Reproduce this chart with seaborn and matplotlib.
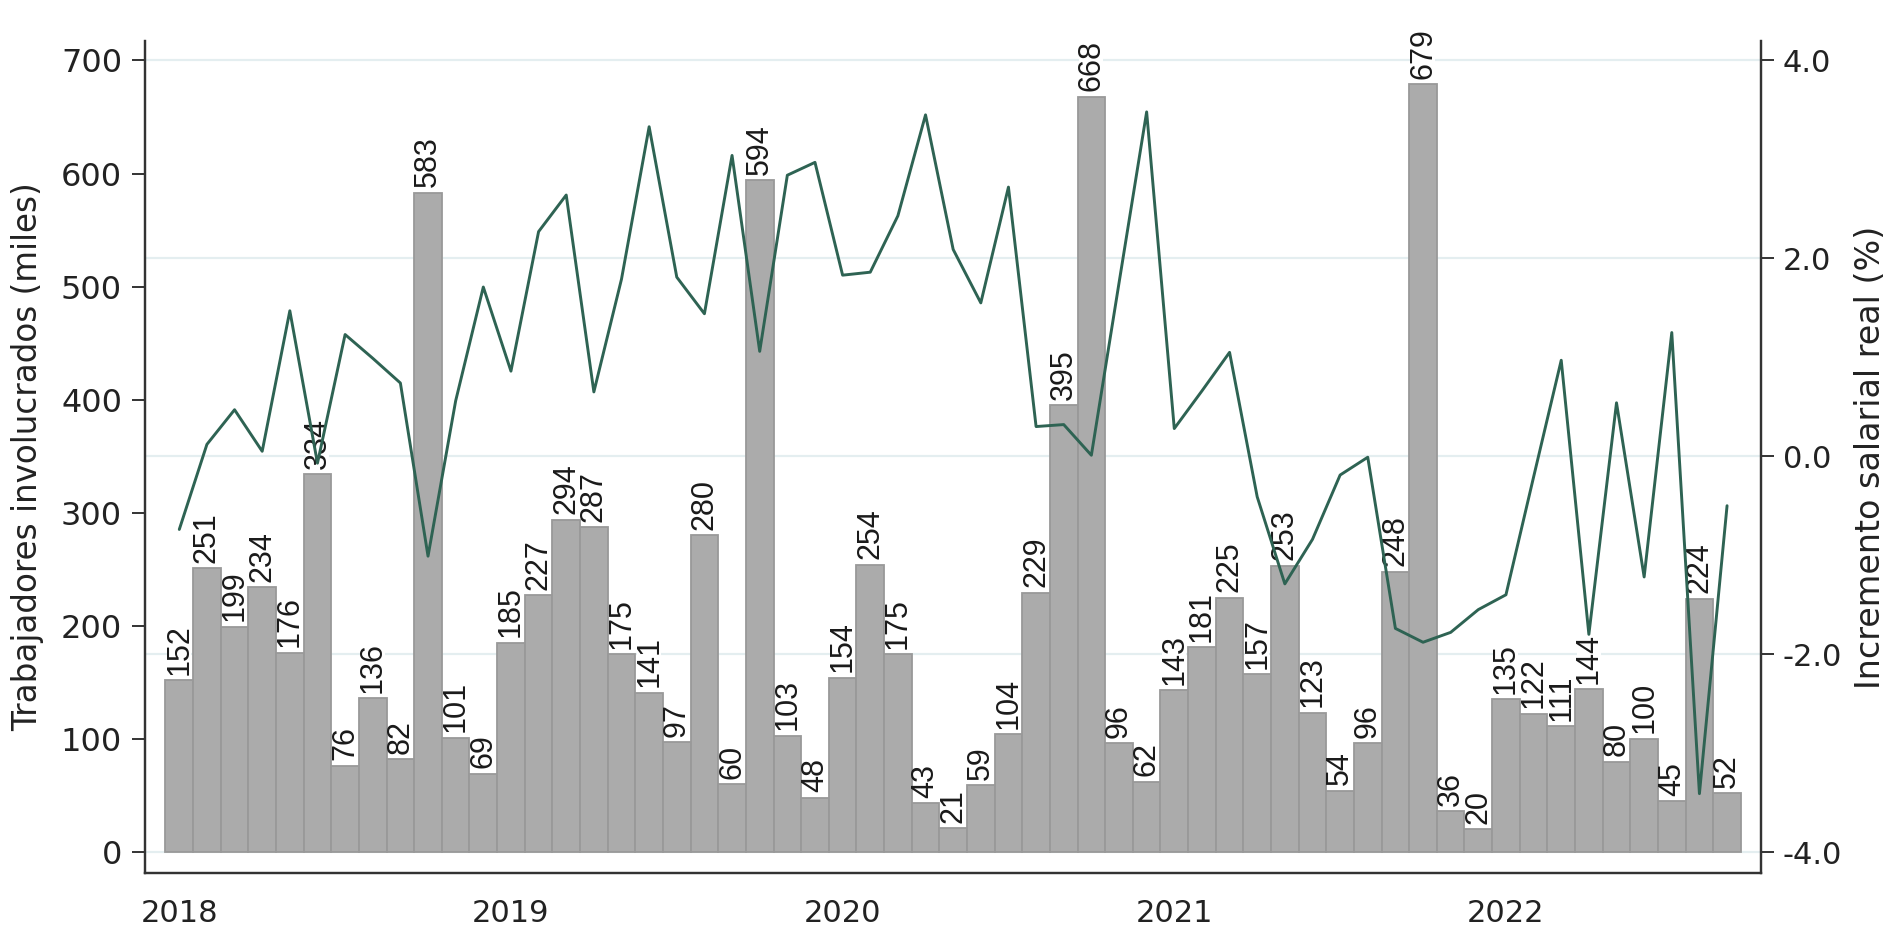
import pandas as pd
import numpy as np
import matplotlib.pyplot as plt
import seaborn as sns

# meses ene-2018 .. sep-2022
meses = pd.date_range("2018-01-01", periods=57, freq="MS")

trabajadores = [152, 251, 199, 234, 176, 334, 76, 136, 82, 583, 101, 69,
                185, 227, 294, 287, 175, 141, 97, 280, 60, 594, 103, 48,
                154, 254, 175, 43, 21, 59, 104, 229, 395, 668, 96, 62,
                143, 181, 225, 157, 253, 123, 54, 96, 248, 679, 36, 20,
                135, 122, 111, 144, 80, 100, 45, 224, 52]

incremento = [-0.74, 0.12, 0.47, 0.05, 1.47, -0.07, 1.23, 0.99, 0.74, -1.01, 0.56, 1.71,
              0.86, 2.27, 2.64, 0.65, 1.79, 3.33, 1.81, 1.44, 3.04, 1.06, 2.84, 2.97,
              1.83, 1.86, 2.43, 3.45, 2.09, 1.55, 2.72, 0.30, 0.32, 0.01, 1.75, 3.48,
              0.28, 0.66, 1.05, -0.41, -1.29, -0.84, -0.19, -0.01, -1.74, -1.88, -1.78, -1.55,
              -1.40, -0.21, 0.97, -1.80, 0.54, -1.22, 1.25, -3.41, -0.50]

izq_ticks = [0, 100, 200, 300, 400, 500, 600, 700]
der_ticks = [-4.0, -2.0, 0.0, 2.0, 4.0]

df = pd.DataFrame({"pos": np.arange(len(meses)), "fecha": meses,
                   "trab": trabajadores, "inc": incremento})

sns.set_style("white")
plt.rcParams["font.family"] = ["DejaVu Sans"]
txt = "#222222"
eje = "#333333"

fig = plt.figure(figsize=(18.93, 9.33), dpi=100)
rect = [0.0766, 0.0643, 0.8537, 0.8917]
ylim_izq = (-18.6, 717.2)
ylim_der = (-4.212, 4.196)
xlim = (-1.24, 57.23)

# capa de fondo con la rejilla del eje derecho
axg = fig.add_axes(rect, zorder=0)
axg.set_ylim(*ylim_der)
axg.set_yticks(der_ticks)
axg.grid(axis="y", color="#e4eef0", lw=1.6)
axg.set_xticks([])
axg.tick_params(left=False, labelleft=False)
for s in axg.spines.values():
    s.set_visible(False)

ax = fig.add_axes(rect, zorder=1)
ax.patch.set_visible(False)
sns.barplot(data=df, x="pos", y="trab", color="#ababab", width=1.0,
            edgecolor="#999999", linewidth=1.3, saturation=1, ax=ax)
for c in ax.containers:
    ax.bar_label(c, labels=[str(v) for v in trabajadores], rotation=90, padding=4,
                 fontsize=22, color="#1a1a1a", family=["Liberation Sans", "DejaVu Sans"],
                 bbox=dict(facecolor="white", edgecolor="none", boxstyle="square,pad=-0.1"))
ax.set_ylim(*ylim_izq)
ax.set_xlim(*xlim)
ax.set_yticks(izq_ticks)
ax.set_yticklabels([str(t) for t in izq_ticks], fontsize=23, color=txt)
ax.set_ylabel("Trabajadores involucrados (miles)", fontsize=23.5, color=txt, labelpad=12)
enero = df.loc[df["fecha"].dt.month == 1]
ax.set_xticks(enero["pos"])
ax.set_xticklabels(enero["fecha"].dt.year.astype(str), fontsize=22, color=txt)
ax.set_xlabel("")
ax.tick_params(axis="both", direction="out", length=9.5, width=1.4, color=eje)
ax.tick_params(axis="y", pad=7)
ax.tick_params(axis="x", pad=9)

ax2 = ax.twinx()
ax2.set_zorder(2)
sns.lineplot(data=df, x="pos", y="inc", color="#2e6353", lw=2.1, ax=ax2)
ax2.set_ylim(*ylim_der)
ax2.set_xlim(*xlim)
ax2.set_yticks(der_ticks)
ax2.set_yticklabels([f"{t:.1f}" for t in der_ticks], fontsize=22, color=txt)
ax2.set_ylabel("Incremento salarial real (%)", fontsize=24, color=txt, labelpad=9)
ax2.tick_params(axis="y", direction="out", length=9.5, width=1.4, color=eje, pad=6)

for a in (ax, ax2):
    a.spines["top"].set_visible(False)
    for k in ("left", "right", "bottom"):
        a.spines[k].set_color(eje)
        a.spines[k].set_linewidth(1.6)

fig.savefig("out.png", dpi=100)
